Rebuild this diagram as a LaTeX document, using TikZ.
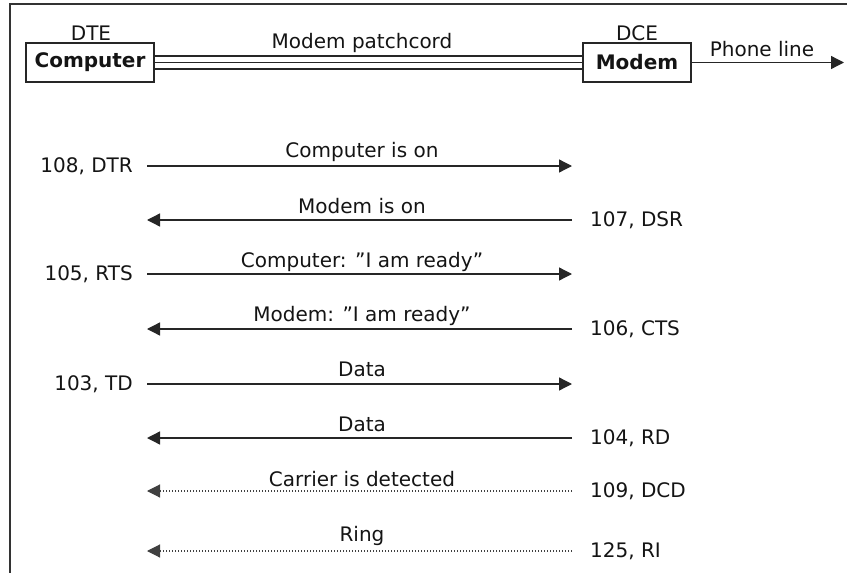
\documentclass[tikz,border=0pt]{standalone}
\usepackage{fontspec}
\defaultfontfeatures{}
\setmainfont{DejaVu Sans}[Ligatures=ResetAll]
\usetikzlibrary{arrows.meta}
\begin{document}
\begin{tikzpicture}[x=1pt,y=-1pt,
  every node/.style={font=\fontsize{20}{24}\selectfont, text=black!92, inner sep=0pt},
  ln/.style={draw=black!85, line width=1.3pt},
  arr/.style={ln, -{Triangle[length=13pt,width=13pt]}},
  dotline/.style={draw=black!75, line width=1.1pt, dash pattern=on 0.9pt off 2.1pt, -{Triangle[length=13pt,width=13pt]}},
  devbox/.style={draw=black!85, line width=1.3pt, minimum height=39pt, font=\fontsize{20}{24}\selectfont\bfseries},
  lbl/.style={anchor=base},
  leftlbl/.style={anchor=east},
  rightlbl/.style={anchor=west}]
\useasboundingbox (0,0) rectangle (847,573);
% frame
\draw[line width=1.3pt, draw=black!80] (10,573) -- (10,4) -- (847,4);
% devices
\node[devbox, minimum width=128pt] (comp) at (90,62.5) {Computer};
\node[devbox, minimum width=108pt] (modem) at (637,62.5) {Modem};
\node[lbl] (dte) at (91,40.5) {DTE};
\node[lbl] (dce) at (637,40.5) {DCE};
% patchcord
\draw[ln] ([yshift=6.5pt]comp.east) -- ([yshift=6.5pt]modem.west);
\draw[ln] (comp.east) -- (modem.west);
\draw[ln] ([yshift=-6.5pt]comp.east) -- ([yshift=-6.5pt]modem.west);
\node[lbl] (patch) at (362,48) {Modem patchcord};
% phone line
\coordinate (phone) at (844,62.5);
\draw[arr] (modem.east) -- (phone);
\node[lbl] (phonelbl) at (762,56.5) {Phone line};
% rows
\coordinate (L1) at (147,166); \coordinate (R1) at (572,166);
\coordinate (L2) at (147,220); \coordinate (R2) at (572,220);
\coordinate (L3) at (147,274); \coordinate (R3) at (572,274);
\coordinate (L4) at (147,329); \coordinate (R4) at (572,329);
\coordinate (L5) at (147,384); \coordinate (R5) at (572,384);
\coordinate (L6) at (147,438); \coordinate (R6) at (572,438);
\coordinate (L7) at (147,491); \coordinate (R7) at (572,491);
\coordinate (L8) at (147,551); \coordinate (R8) at (572,551);
% row 1
\node[leftlbl] (dtr) at (133,166) {108, DTR};
\draw[arr] (L1) -- (R1);
\node[lbl] (t1) at (362,157) {Computer is on};
% row 2
\node[rightlbl] (dsr) at (590,220) {107, DSR};
\draw[arr] (R2) -- (L2);
\node[lbl] (t2) at (362,213) {Modem is on};
% row 3
\node[leftlbl] (rts) at (133,274) {105, RTS};
\draw[arr] (L3) -- (R3);
\node[lbl] (t3) at (362,267) {Computer: "I am ready"};
% row 4
\node[rightlbl] (cts) at (590,329) {106, CTS};
\draw[arr] (R4) -- (L4);
\node[lbl] (t4) at (362,321) {Modem: "I am ready"};
% row 5
\node[leftlbl] (td) at (133,384) {103, TD};
\draw[arr] (L5) -- (R5);
\node[lbl] (t5) at (362,376) {Data};
% row 6
\node[rightlbl] (rd) at (590,438) {104, RD};
\draw[arr] (R6) -- (L6);
\node[lbl] (t6) at (362,431) {Data};
% row 7
\node[rightlbl] (dcd) at (590,491) {109, DCD};
\draw[dotline] (R7) -- (L7);
\node[lbl] (t7) at (362,486) {Carrier is detected};
% row 8
\node[rightlbl] (ri) at (590,551) {125, RI};
\draw[dotline] (R8) -- (L8);
\node[lbl] (t8) at (362,541) {Ring};
\end{tikzpicture}
\end{document}
